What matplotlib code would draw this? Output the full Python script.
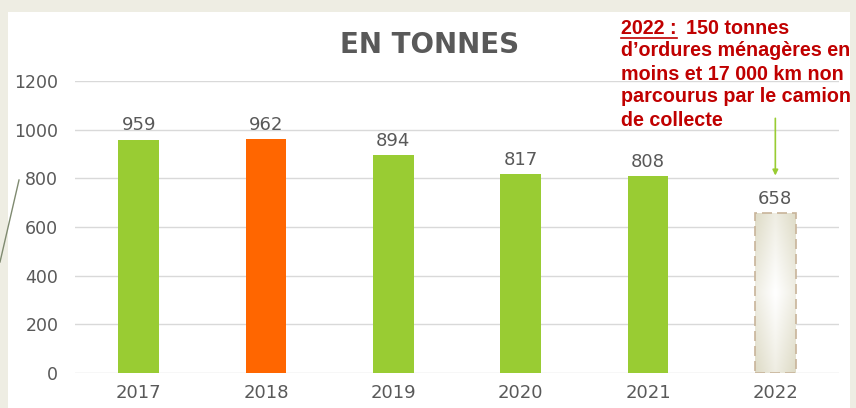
import numpy as np
import matplotlib.pyplot as plt
from matplotlib.patches import Rectangle
from matplotlib.colors import LinearSegmentedColormap

annees = ["2017", "2018", "2019", "2020", "2021", "2022"]
tonnes = [959, 962, 894, 817, 808, 658]
couleurs = ["#99CC33", "#FF6600", "#99CC33", "#99CC33", "#99CC33", "none"]
y_ticks = [0, 200, 400, 600, 800, 1000, 1200]

gris = "#595959"
rouge = "#C00000"

fig = plt.figure(figsize=(8.56, 4.08), dpi=100)
fig.patch.set_facecolor("#EEEDE3")

# fond : panneau blanc de la diapo
bg = fig.add_axes([0, 0, 1, 1], zorder=-1)
bg.set_xlim(0, 856)
bg.set_ylim(408, 0)
bg.axis("off")
bg.add_patch(Rectangle((8, 12), 842, 400, facecolor="white", edgecolor="none"))
bg.plot([0, 19], [262, 180], color="#7f8a70", lw=1.0)

ax = fig.add_axes([75 / 856, 35 / 408, 764 / 856, 292 / 408], zorder=1)
ax.set_facecolor("none")

x = np.arange(len(annees))
bars = ax.bar(x, tonnes, width=0.32, color=couleurs, zorder=3)

# barre 2022 : degrade beige + bord pointille
b = bars[-1]
g1 = np.abs(np.linspace(-1, 1, 60))
grad = 0.5 * np.add.outer(g1, g1)
img = ax.imshow(grad, cmap=LinearSegmentedColormap.from_list("beige", ["#FFFFFF", "#DEDBC6"]),
                extent=[b.get_x(), b.get_x() + b.get_width(), 0, tonnes[-1]],
                aspect="auto", zorder=3, interpolation="bicubic")
img.set_clip_path(b)
ax.add_patch(Rectangle((b.get_x(), 0), b.get_width(), tonnes[-1], fill=False,
                       edgecolor="#C8B49A", linestyle=(0, (6, 3)), lw=1.2, zorder=4))

for xi, v in zip(x, tonnes):
    ax.text(xi, v + 22, str(v), ha="center", va="bottom", fontsize=13, color=gris)

ax.set_xlim(-0.5, len(annees) - 0.5)
ax.set_ylim(0, 1200)
ax.set_yticks(y_ticks)
ax.set_xticks(x)
ax.set_xticklabels(annees)
ax.tick_params(axis="both", length=0, labelsize=13, labelcolor=gris)
ax.tick_params(axis="y", pad=12, labelsize=12.5)
ax.tick_params(axis="x", pad=8)
ax.grid(axis="y", color="#D9D9D9", lw=1, zorder=0)
for s in ax.spines.values():
    s.set_visible(False)

fig.text(430 / 856, 1 - 45 / 408, "EN TONNES", ha="center", va="center",
         fontsize=20, fontweight="bold", color=gris)

# annotation 2022
police = ["Liberation Sans", "DejaVu Sans"]
taille = 14.2
lignes = ["150 tonnes", "d\u2019ordures ménagères en", "moins et 17 000 km non",
          "parcourus par le camion", "de collecte"]
x0 = 621 / 856
y0 = 1 - 28 / 408
dy = 23 / 408
fig.text(x0, y0, "2022 :", ha="left", va="center", fontsize=taille, family=police,
         fontweight="bold", color=rouge)
fig.add_artist(plt.Line2D([x0, x0 + 56 / 856], [y0 - 10 / 408, y0 - 10 / 408],
                          color=rouge, lw=1.2))
fig.text(x0 + 65 / 856, y0, lignes[0], ha="left", va="center", fontsize=taille,
         family=police, fontweight="bold", color=rouge)
for i, l in enumerate(lignes[1:], start=1):
    fig.text(x0, y0 - i * dy, l, ha="left", va="center", fontsize=taille,
             family=police, fontweight="bold", color=rouge)

ax.annotate("", xy=(x[-1], 800), xytext=(x[-1], 1058),
            arrowprops=dict(arrowstyle="-|>", color="#99CC33", lw=1.2,
                            mutation_scale=8), annotation_clip=False)

fig.savefig("out.png", dpi=100, facecolor=fig.get_facecolor())
